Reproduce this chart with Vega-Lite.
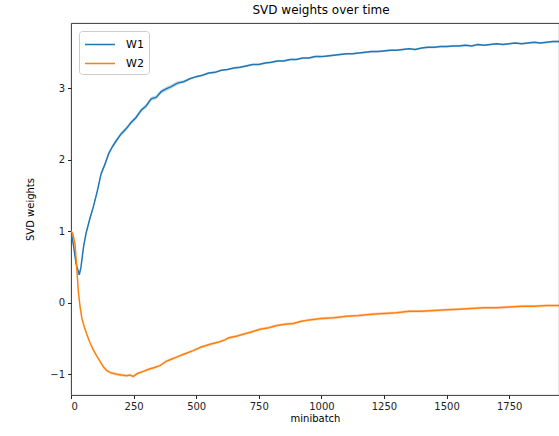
{
  "$schema": "https://vega.github.io/schema/vega-lite/v6.json",
  "width": 488,
  "height": 372,
  "autosize": {"type": "none"},
  "padding": {"left": 71, "top": 23, "right": 0, "bottom": 41},
  "title": {"text": "SVD weights over time", "offset": 6, "dx": 6},
  "config": {
    "title": {"font": "DejaVu Sans", "fontSize": 12, "fontWeight": "normal", "color": "#000"},
    "view": {"stroke": "#222", "strokeWidth": 0.9},
    "axis": {"grid": false, "domain": false, "tickColor": "#222", "tickSize": 3.5, "labelFont": "DejaVu Sans", "labelFontSize": 10, "labelColor": "#222", "titleFont": "DejaVu Sans", "titleFontSize": 10, "titleFontWeight": "normal", "titleColor": "#000", "labelPadding": 3}
  },
  "data": {"values": [
    {"mb":0,"s":"W1","w":1.00,"lo":0.985,"hi":1.015},
    {"mb":10,"s":"W1","w":0.80,"lo":0.78,"hi":0.82},
    {"mb":20,"s":"W1","w":0.55,"lo":0.53,"hi":0.57},
    {"mb":33,"s":"W1","w":0.39,"lo":0.37,"hi":0.41},
    {"mb":40,"s":"W1","w":0.50,"lo":0.47,"hi":0.53},
    {"mb":50,"s":"W1","w":0.78,"lo":0.75,"hi":0.81},
    {"mb":60,"s":"W1","w":0.97,"lo":0.94,"hi":1.00},
    {"mb":75,"s":"W1","w":1.17,"lo":1.14,"hi":1.20},
    {"mb":90,"s":"W1","w":1.35,"lo":1.32,"hi":1.38},
    {"mb":105,"s":"W1","w":1.56,"lo":1.53,"hi":1.59},
    {"mb":120,"s":"W1","w":1.80,"lo":1.77,"hi":1.83},
    {"mb":135,"s":"W1","w":1.93,"lo":1.90,"hi":1.96},
    {"mb":150,"s":"W1","w":2.08,"lo":2.05,"hi":2.11},
    {"mb":165,"s":"W1","w":2.18,"lo":2.15,"hi":2.21},
    {"mb":180,"s":"W1","w":2.26,"lo":2.23,"hi":2.29},
    {"mb":200,"s":"W1","w":2.36,"lo":2.33,"hi":2.39},
    {"mb":220,"s":"W1","w":2.43,"lo":2.40,"hi":2.46},
    {"mb":240,"s":"W1","w":2.52,"lo":2.49,"hi":2.55},
    {"mb":260,"s":"W1","w":2.59,"lo":2.56,"hi":2.62},
    {"mb":280,"s":"W1","w":2.69,"lo":2.66,"hi":2.72},
    {"mb":300,"s":"W1","w":2.75,"lo":2.72,"hi":2.78},
    {"mb":320,"s":"W1","w":2.85,"lo":2.82,"hi":2.88},
    {"mb":340,"s":"W1","w":2.87,"lo":2.84,"hi":2.90},
    {"mb":360,"s":"W1","w":2.95,"lo":2.92,"hi":2.98},
    {"mb":380,"s":"W1","w":2.99,"lo":2.96,"hi":3.02},
    {"mb":400,"s":"W1","w":3.02,"lo":2.99,"hi":3.05},
    {"mb":425,"s":"W1","w":3.07,"lo":3.04,"hi":3.10},
    {"mb":450,"s":"W1","w":3.09,"lo":3.07,"hi":3.11},
    {"mb":475,"s":"W1","w":3.13,"lo":3.115,"hi":3.145},
    {"mb":500,"s":"W1","w":3.16,"lo":3.145,"hi":3.175},
    {"mb":525,"s":"W1","w":3.18,"lo":3.165,"hi":3.195},
    {"mb":550,"s":"W1","w":3.21,"lo":3.195,"hi":3.225},
    {"mb":575,"s":"W1","w":3.22,"lo":3.205,"hi":3.235},
    {"mb":600,"s":"W1","w":3.25,"lo":3.235,"hi":3.265},
    {"mb":625,"s":"W1","w":3.26,"lo":3.245,"hi":3.275},
    {"mb":650,"s":"W1","w":3.28,"lo":3.265,"hi":3.295},
    {"mb":675,"s":"W1","w":3.29,"lo":3.275,"hi":3.305},
    {"mb":700,"s":"W1","w":3.31,"lo":3.295,"hi":3.325},
    {"mb":725,"s":"W1","w":3.33,"lo":3.315,"hi":3.345},
    {"mb":750,"s":"W1","w":3.33,"lo":3.315,"hi":3.345},
    {"mb":775,"s":"W1","w":3.35,"lo":3.335,"hi":3.365},
    {"mb":800,"s":"W1","w":3.36,"lo":3.345,"hi":3.375},
    {"mb":825,"s":"W1","w":3.38,"lo":3.365,"hi":3.395},
    {"mb":850,"s":"W1","w":3.38,"lo":3.365,"hi":3.395},
    {"mb":875,"s":"W1","w":3.40,"lo":3.385,"hi":3.415},
    {"mb":900,"s":"W1","w":3.40,"lo":3.385,"hi":3.415},
    {"mb":925,"s":"W1","w":3.42,"lo":3.405,"hi":3.435},
    {"mb":950,"s":"W1","w":3.42,"lo":3.405,"hi":3.435},
    {"mb":975,"s":"W1","w":3.44,"lo":3.425,"hi":3.455},
    {"mb":1000,"s":"W1","w":3.44,"lo":3.425,"hi":3.455},
    {"mb":1025,"s":"W1","w":3.45,"lo":3.435,"hi":3.465},
    {"mb":1050,"s":"W1","w":3.46,"lo":3.445,"hi":3.475},
    {"mb":1075,"s":"W1","w":3.47,"lo":3.455,"hi":3.485},
    {"mb":1100,"s":"W1","w":3.48,"lo":3.465,"hi":3.495},
    {"mb":1125,"s":"W1","w":3.48,"lo":3.465,"hi":3.495},
    {"mb":1150,"s":"W1","w":3.49,"lo":3.475,"hi":3.505},
    {"mb":1175,"s":"W1","w":3.50,"lo":3.485,"hi":3.515},
    {"mb":1200,"s":"W1","w":3.51,"lo":3.495,"hi":3.525},
    {"mb":1225,"s":"W1","w":3.51,"lo":3.495,"hi":3.525},
    {"mb":1250,"s":"W1","w":3.52,"lo":3.505,"hi":3.535},
    {"mb":1275,"s":"W1","w":3.53,"lo":3.515,"hi":3.545},
    {"mb":1300,"s":"W1","w":3.53,"lo":3.515,"hi":3.545},
    {"mb":1325,"s":"W1","w":3.54,"lo":3.525,"hi":3.555},
    {"mb":1350,"s":"W1","w":3.55,"lo":3.535,"hi":3.565},
    {"mb":1375,"s":"W1","w":3.54,"lo":3.525,"hi":3.555},
    {"mb":1400,"s":"W1","w":3.56,"lo":3.545,"hi":3.575},
    {"mb":1425,"s":"W1","w":3.57,"lo":3.555,"hi":3.585},
    {"mb":1450,"s":"W1","w":3.57,"lo":3.555,"hi":3.585},
    {"mb":1475,"s":"W1","w":3.58,"lo":3.565,"hi":3.595},
    {"mb":1500,"s":"W1","w":3.58,"lo":3.565,"hi":3.595},
    {"mb":1525,"s":"W1","w":3.59,"lo":3.575,"hi":3.605},
    {"mb":1550,"s":"W1","w":3.59,"lo":3.575,"hi":3.605},
    {"mb":1575,"s":"W1","w":3.60,"lo":3.585,"hi":3.615},
    {"mb":1600,"s":"W1","w":3.59,"lo":3.575,"hi":3.605},
    {"mb":1625,"s":"W1","w":3.61,"lo":3.595,"hi":3.625},
    {"mb":1650,"s":"W1","w":3.60,"lo":3.585,"hi":3.615},
    {"mb":1675,"s":"W1","w":3.61,"lo":3.595,"hi":3.625},
    {"mb":1700,"s":"W1","w":3.62,"lo":3.605,"hi":3.635},
    {"mb":1725,"s":"W1","w":3.61,"lo":3.595,"hi":3.625},
    {"mb":1750,"s":"W1","w":3.62,"lo":3.605,"hi":3.635},
    {"mb":1775,"s":"W1","w":3.63,"lo":3.615,"hi":3.645},
    {"mb":1800,"s":"W1","w":3.62,"lo":3.605,"hi":3.635},
    {"mb":1825,"s":"W1","w":3.63,"lo":3.615,"hi":3.645},
    {"mb":1850,"s":"W1","w":3.64,"lo":3.625,"hi":3.655},
    {"mb":1875,"s":"W1","w":3.63,"lo":3.615,"hi":3.645},
    {"mb":1900,"s":"W1","w":3.64,"lo":3.625,"hi":3.655},
    {"mb":1925,"s":"W1","w":3.65,"lo":3.635,"hi":3.665},
    {"mb":1950,"s":"W1","w":3.65,"lo":3.635,"hi":3.665},
    {"mb":0,"s":"W2","w":1.00,"lo":0.985,"hi":1.015},
    {"mb":7,"s":"W2","w":0.97,"lo":0.95,"hi":0.99},
    {"mb":16,"s":"W2","w":0.82,"lo":0.80,"hi":0.84},
    {"mb":23,"s":"W2","w":0.49,"lo":0.47,"hi":0.51},
    {"mb":29,"s":"W2","w":0.17,"lo":0.15,"hi":0.19},
    {"mb":36,"s":"W2","w":-0.05,"lo":-0.07,"hi":-0.03},
    {"mb":43,"s":"W2","w":-0.21,"lo":-0.23,"hi":-0.19},
    {"mb":53,"s":"W2","w":-0.34,"lo":-0.36,"hi":-0.32},
    {"mb":63,"s":"W2","w":-0.44,"lo":-0.46,"hi":-0.42},
    {"mb":76,"s":"W2","w":-0.56,"lo":-0.58,"hi":-0.54},
    {"mb":89,"s":"W2","w":-0.66,"lo":-0.68,"hi":-0.64},
    {"mb":102,"s":"W2","w":-0.74,"lo":-0.76,"hi":-0.72},
    {"mb":116,"s":"W2","w":-0.82,"lo":-0.84,"hi":-0.80},
    {"mb":130,"s":"W2","w":-0.90,"lo":-0.92,"hi":-0.88},
    {"mb":143,"s":"W2","w":-0.95,"lo":-0.97,"hi":-0.93},
    {"mb":160,"s":"W2","w":-0.98,"lo":-1.00,"hi":-0.96},
    {"mb":182,"s":"W2","w":-1.00,"lo":-1.02,"hi":-0.98},
    {"mb":200,"s":"W2","w":-1.01,"lo":-1.03,"hi":-0.99},
    {"mb":222,"s":"W2","w":-1.02,"lo":-1.04,"hi":-1.00},
    {"mb":235,"s":"W2","w":-1.01,"lo":-1.03,"hi":-0.99},
    {"mb":249,"s":"W2","w":-1.03,"lo":-1.05,"hi":-1.01},
    {"mb":265,"s":"W2","w":-0.99,"lo":-1.01,"hi":-0.97},
    {"mb":289,"s":"W2","w":-0.96,"lo":-0.98,"hi":-0.94},
    {"mb":310,"s":"W2","w":-0.93,"lo":-0.95,"hi":-0.91},
    {"mb":330,"s":"W2","w":-0.91,"lo":-0.93,"hi":-0.89},
    {"mb":355,"s":"W2","w":-0.88,"lo":-0.90,"hi":-0.86},
    {"mb":380,"s":"W2","w":-0.82,"lo":-0.84,"hi":-0.80},
    {"mb":400,"s":"W2","w":-0.79,"lo":-0.81,"hi":-0.77},
    {"mb":422,"s":"W2","w":-0.76,"lo":-0.78,"hi":-0.74},
    {"mb":450,"s":"W2","w":-0.72,"lo":-0.74,"hi":-0.70},
    {"mb":488,"s":"W2","w":-0.67,"lo":-0.69,"hi":-0.65},
    {"mb":520,"s":"W2","w":-0.62,"lo":-0.64,"hi":-0.60},
    {"mb":555,"s":"W2","w":-0.58,"lo":-0.60,"hi":-0.56},
    {"mb":590,"s":"W2","w":-0.55,"lo":-0.57,"hi":-0.53},
    {"mb":615,"s":"W2","w":-0.52,"lo":-0.54,"hi":-0.50},
    {"mb":630,"s":"W2","w":-0.49,"lo":-0.51,"hi":-0.47},
    {"mb":660,"s":"W2","w":-0.47,"lo":-0.49,"hi":-0.45},
    {"mb":688,"s":"W2","w":-0.44,"lo":-0.46,"hi":-0.42},
    {"mb":720,"s":"W2","w":-0.41,"lo":-0.43,"hi":-0.39},
    {"mb":755,"s":"W2","w":-0.37,"lo":-0.39,"hi":-0.35},
    {"mb":790,"s":"W2","w":-0.35,"lo":-0.37,"hi":-0.33},
    {"mb":821,"s":"W2","w":-0.32,"lo":-0.34,"hi":-0.30},
    {"mb":855,"s":"W2","w":-0.30,"lo":-0.32,"hi":-0.28},
    {"mb":888,"s":"W2","w":-0.29,"lo":-0.31,"hi":-0.27},
    {"mb":920,"s":"W2","w":-0.26,"lo":-0.28,"hi":-0.24},
    {"mb":952,"s":"W2","w":-0.24,"lo":-0.26,"hi":-0.22},
    {"mb":1000,"s":"W2","w":-0.22,"lo":-0.24,"hi":-0.20},
    {"mb":1050,"s":"W2","w":-0.21,"lo":-0.23,"hi":-0.19},
    {"mb":1100,"s":"W2","w":-0.19,"lo":-0.21,"hi":-0.17},
    {"mb":1150,"s":"W2","w":-0.18,"lo":-0.20,"hi":-0.16},
    {"mb":1200,"s":"W2","w":-0.16,"lo":-0.18,"hi":-0.14},
    {"mb":1250,"s":"W2","w":-0.15,"lo":-0.17,"hi":-0.13},
    {"mb":1300,"s":"W2","w":-0.14,"lo":-0.16,"hi":-0.12},
    {"mb":1350,"s":"W2","w":-0.12,"lo":-0.14,"hi":-0.10},
    {"mb":1400,"s":"W2","w":-0.12,"lo":-0.14,"hi":-0.10},
    {"mb":1450,"s":"W2","w":-0.11,"lo":-0.13,"hi":-0.09},
    {"mb":1500,"s":"W2","w":-0.10,"lo":-0.12,"hi":-0.08},
    {"mb":1550,"s":"W2","w":-0.09,"lo":-0.11,"hi":-0.07},
    {"mb":1600,"s":"W2","w":-0.08,"lo":-0.10,"hi":-0.06},
    {"mb":1650,"s":"W2","w":-0.07,"lo":-0.09,"hi":-0.05},
    {"mb":1700,"s":"W2","w":-0.07,"lo":-0.09,"hi":-0.05},
    {"mb":1750,"s":"W2","w":-0.06,"lo":-0.08,"hi":-0.04},
    {"mb":1800,"s":"W2","w":-0.05,"lo":-0.07,"hi":-0.03},
    {"mb":1850,"s":"W2","w":-0.05,"lo":-0.07,"hi":-0.03},
    {"mb":1900,"s":"W2","w":-0.04,"lo":-0.06,"hi":-0.02},
    {"mb":1950,"s":"W2","w":-0.04,"lo":-0.06,"hi":-0.02}
  ]},
  "encoding": {
    "x": {"field": "mb", "type": "quantitative", "title": "minibatch",
      "scale": {"domain": [0, 1949], "nice": false, "zero": false},
      "axis": {"values": [0, 250, 500, 750, 1000, 1250, 1500, 1750], "format": "d", "titlePadding": 2}},
    "color": {"field": "s", "type": "nominal", "scale": {"domain": ["W1", "W2"], "range": ["#1f77b4", "#ff7f0e"]},
      "legend": {"title": null, "orient": "top-left", "offset": 8, "symbolType": "M-1,0H3", "symbolSize": 225, "symbolStrokeWidth": 1.5, "symbolOpacity": 1, "symbolFillColor": "transparent",
        "labelFont": "DejaVu Sans", "labelFontSize": 11, "labelColor": "#000", "rowPadding": 5, "padding": 5,
        "fillColor": "white", "strokeColor": "#ccc", "cornerRadius": 3, "labelOffset": 25}}
  },
  "layer": [
    {
      "mark": {"type": "area", "opacity": 0.25, "clip": true},
      "encoding": {
        "y": {"field": "lo", "type": "quantitative"},
        "y2": {"field": "hi"}
      }
    },
    {
      "mark": {"type": "line", "strokeWidth": 1.5, "clip": true},
      "encoding": {
        "y": {"field": "w", "type": "quantitative", "title": "SVD weights",
          "scale": {"domain": [-1.29, 3.91], "nice": false, "zero": false},
          "axis": {"values": [-1, 0, 1, 2, 3], "format": "d", "titlePadding": 14}}
      }
    }
  ]
}
